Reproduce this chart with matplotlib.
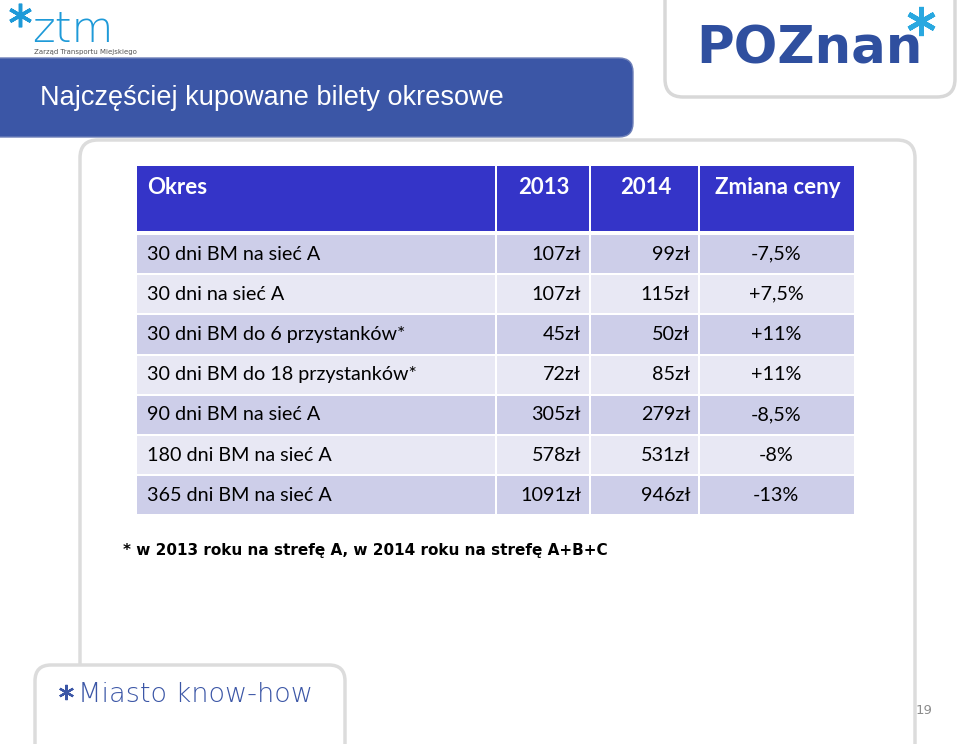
import matplotlib.pyplot as plt
from matplotlib.patches import Rectangle, FancyBboxPatch

# table data
naglowki = ['Okres', '2013', '2014', 'Zmiana ceny']
okres = ['30 dni BM na sieć A', '30 dni na sieć A', '30 dni BM do 6 przystanków*',
         '30 dni BM do 18 przystanków*', '90 dni BM na sieć A', '180 dni BM na sieć A',
         '365 dni BM na sieć A']
ceny_2013 = [107, 107, 45, 72, 305, 578, 1091]
ceny_2014 = [99, 115, 50, 85, 279, 531, 946]
zmiana = ['-7,5%', '+7,5%', '+11%', '+11%', '-8,5%', '-8%', '-13%']

tytul = 'Najczęściej kupowane bilety okresowe'
przypis = '* w 2013 roku na strefę A, w 2014 roku na strefę A+B+C'

# layout (pixels)
col_edges = [137, 497, 591, 700, 856]
head_top, head_h = 166, 67
row_top, row_h = 235, 40.2
gap = 2

blue_head = '#3434c8'
row_dark = '#cdcee9'
row_light = '#e8e8f4'
font_tab = 'Lato'
fs_tab = 14.2

fig = plt.figure(figsize=(9.6, 7.44), dpi=100)
ax = fig.add_axes([0, 0, 1, 1])
ax.set_xlim(0, 960)
ax.set_ylim(744, 0)
ax.axis('off')

# panels
ax.add_patch(FancyBboxPatch((80, 140), 835, 640, boxstyle='round,pad=0,rounding_size=18',
                            fc='white', ec='#dcdcdc', lw=2.5))
ax.add_patch(FancyBboxPatch((-40, 58), 673, 79, boxstyle='round,pad=0,rounding_size=14',
                            fc='#3b56a6', ec='#6d7fb8', lw=1))
ax.text(40, 98, tytul, color='white', fontsize=19.5, family='Liberation Sans', va='center')

ax.add_patch(FancyBboxPatch((665, -30), 290, 127, boxstyle='round,pad=0,rounding_size=18',
                            fc='white', ec='#d8d8d8', lw=2.5))
ax.text(696, 49, 'POZnan', color='#2f4f9f', fontsize=37, family='DejaVu Sans',
        fontweight='bold', va='center')
ax.plot([921], [21], marker=(6, 2, 0), ms=21, mew=3.5, color='#29a8e0')

ax.add_patch(FancyBboxPatch((35, 665), 310, 120, boxstyle='round,pad=0,rounding_size=16',
                            fc='white', ec='#dcdcdc', lw=2.5))
ax.plot([66], [692], marker=(6, 2, 0), ms=11, mew=1.6, color='#3b56a6')
ax.text(78, 694, 'Miasto know-how', color='#3b56a6', fontsize=19.5, family='DejaVu Sans',
        fontweight='light', va='center')

# ztm logo
ax.plot([20], [15], marker=(6, 2, 0), ms=17, mew=2.5, color='#1e9ad8')
ax.text(32, 29, 'ztm', color='#1e9ad8', fontsize=31, family='DejaVu Sans',
        fontweight='light', va='center')
ax.text(34, 52, 'Zarząd Transportu Miejskiego', color='#555555', fontsize=5, va='center')

ax.text(924, 710, '19', color='#8c8c8c', fontsize=9.5, ha='center', va='center')

# header
for i, h in enumerate(naglowki):
    x0, x1 = col_edges[i], col_edges[i + 1]
    ax.add_patch(Rectangle((x0, head_top), x1 - x0 - gap, head_h - gap, fc=blue_head, ec='none'))
    if i == 0:
        ax.text(x0 + 10, head_top + 22, h, color='white', fontsize=16, family=font_tab,
                fontweight='bold', va='center')
    else:
        ax.text((x0 + x1) / 2, head_top + 22, h, color='white', fontsize=16, family=font_tab,
                fontweight='bold', va='center', ha='center')

# rows
for r in range(len(okres)):
    y0 = row_top + r * row_h
    fc = row_dark if r % 2 == 0 else row_light
    for i in range(4):
        x0, x1 = col_edges[i], col_edges[i + 1]
        ax.add_patch(Rectangle((x0, y0), x1 - x0 - gap, row_h - gap, fc=fc, ec='none'))
    yc = y0 + (row_h - gap) / 2
    ax.text(col_edges[0] + 10, yc, okres[r], fontsize=fs_tab, family=font_tab, va='center')
    ax.text(col_edges[2] - 10, yc, f'{ceny_2013[r]}zł', fontsize=fs_tab, family=font_tab,
            va='center', ha='right')
    ax.text(col_edges[3] - 10, yc, f'{ceny_2014[r]}zł', fontsize=fs_tab, family=font_tab,
            va='center', ha='right')
    ax.text((col_edges[3] + col_edges[4]) / 2 - 2, yc, zmiana[r], fontsize=fs_tab,
            family=font_tab, va='center', ha='center')

ax.text(123, 550, przypis, fontsize=11, family='DejaVu Sans', fontweight='bold', va='center')

fig.savefig('out.png', dpi=100)
